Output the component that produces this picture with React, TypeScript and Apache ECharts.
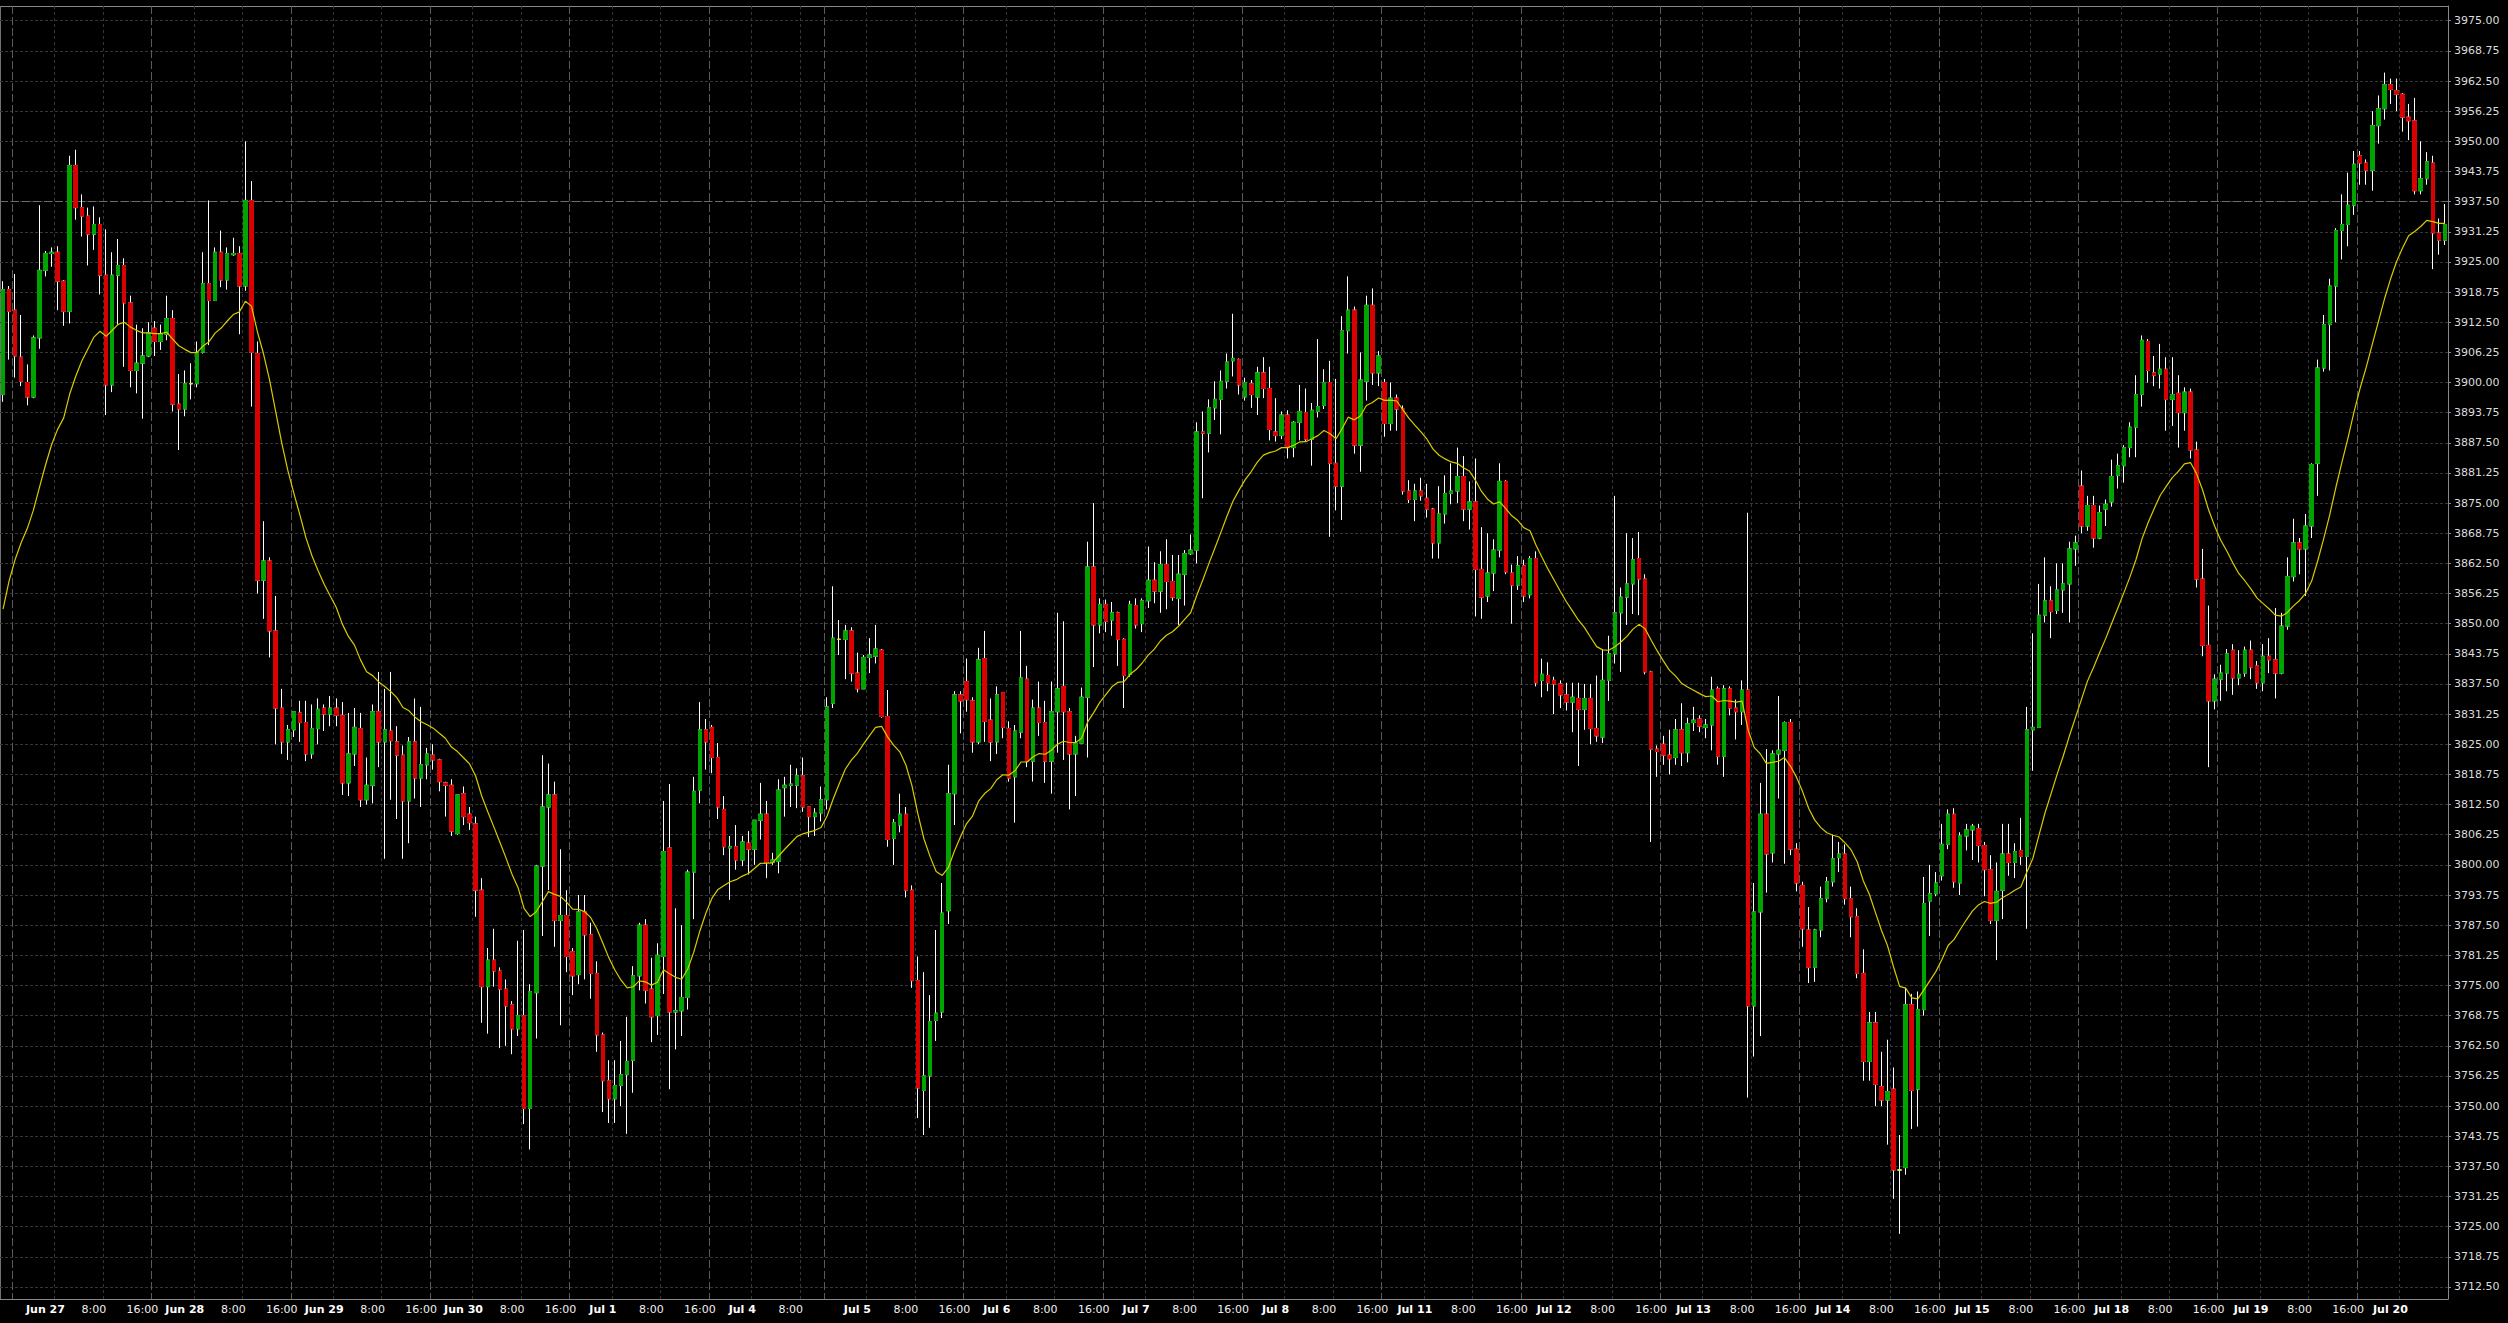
import React, { useEffect, useRef } from 'react';
import * as echarts from 'echarts';

// ---- sessions (hourly bars, broker time) ----
const dayNames = ['Jun 24', 'Jun 27', 'Jun 28', 'Jun 29', 'Jun 30', 'Jul 1', 'Jul 4', 'Jul 5', 'Jul 6', 'Jul 7', 'Jul 8', 'Jul 11', 'Jul 12', 'Jul 13', 'Jul 14', 'Jul 15', 'Jul 18', 'Jul 19', 'Jul 20'];
const dayBarCounts = [2, 23, 23, 23, 23, 23, 19, 23, 23, 23, 23, 23, 23, 23, 23, 23, 23, 23, 15];
const dayFirstHours = [22, 1, 1, 1, 1, 1, 1, 1, 1, 1, 1, 1, 1, 1, 1, 1, 1, 1, 1];
const timeMarks = [{ offset: 7, text: '8:00' }, { offset: 15, text: '16:00' }];

// ---- price axis tick labels ----
const priceTicks = [3712.5, 3718.75, 3725, 3731.25, 3737.5, 3743.75, 3750, 3756.25, 3762.5, 3768.75, 3775, 3781.25, 3787.5, 3793.75, 3800, 3806.25, 3812.5, 3818.75, 3825, 3831.25, 3837.5, 3843.75, 3850, 3856.25, 3862.5, 3868.75, 3875, 3881.25, 3887.5, 3893.75, 3900, 3906.25, 3912.5, 3918.75, 3925, 3931.25, 3937.5, 3943.75, 3950, 3956.25, 3962.5, 3968.75, 3975];
const markedLevel = 3937.5;

// ---- OHLC values ----
const openPrices = [
  3897.5, 3919.25, 3915.0, 3905.25, 3900.0, 3897.0, 3909.25, 3923.25, 3926.75, 3927.0,
  3921.0, 3914.75, 3945.0, 3936.25, 3934.5, 3930.75, 3932.75, 3922.25, 3899.5, 3922.25,
  3924.25, 3916.5, 3902.5, 3904.0, 3905.5, 3911.25, 3908.5, 3910.0, 3913.25, 3895.5,
  3894.5, 3899.75, 3899.75, 3906.25, 3920.5, 3917.0, 3927.0, 3921.25, 3926.5, 3926.75,
  3920.0, 3937.75, 3906.0, 3859.0, 3863.0, 3848.5, 3832.5, 3825.5, 3828.0, 3831.5,
  3829.5, 3823.0, 3828.25, 3832.5, 3831.25, 3832.5, 3831.0, 3817.0, 3823.0, 3828.25,
  3813.5, 3816.5, 3831.75, 3825.5, 3827.75, 3825.5, 3822.75, 3813.25, 3825.5, 3818.0,
  3820.75, 3822.75, 3821.75, 3817.0, 3816.5, 3806.5, 3814.75, 3810.5, 3808.5, 3794.75,
  3774.75, 3780.25, 3778.0, 3774.25, 3771.0, 3766.0, 3768.75, 3749.5, 3773.5, 3799.75,
  3812.0, 3814.5, 3788.5, 3789.5, 3782.0, 3777.25, 3790.25, 3785.5, 3777.5, 3764.75,
  3755.25, 3751.5, 3754.25, 3756.5, 3759.5, 3777.0, 3787.5, 3774.25, 3768.75, 3781.0,
  3803.5, 3769.5, 3769.75, 3772.5, 3798.5, 3815.5, 3828.0, 3828.5, 3822.25, 3811.5,
  3803.5, 3803.75, 3801.0, 3804.5, 3803.25, 3809.25, 3810.5, 3800.5, 3800.75, 3816.0,
  3816.5, 3816.5, 3818.5, 3812.0, 3810.0, 3810.75, 3813.5, 3833.5, 3846.75, 3846.75,
  3848.5, 3839.75, 3836.5, 3843.0, 3843.25, 3844.5, 3830.75, 3805.5, 3808.25, 3810.5,
  3794.75, 3776.0, 3753.25, 3756.25, 3767.75, 3769.5, 3790.5, 3814.75, 3835.25, 3838.0,
  3834.0, 3825.5, 3842.75, 3830.0, 3825.5, 3835.75, 3828.25, 3818.25, 3827.5, 3838.5,
  3821.5, 3832.5, 3829.5, 3821.5, 3831.75, 3837.0, 3831.75, 3823.0, 3825.25, 3834.75,
  3861.75, 3849.75, 3854.0, 3850.75, 3852.25, 3846.75, 3839.5, 3853.75, 3850.0, 3854.75,
  3859.0, 3856.75, 3862.25, 3858.75, 3855.25, 3860.25, 3864.5, 3865.25, 3889.75, 3889.5,
  3894.75, 3896.5, 3900.25, 3904.5, 3904.75, 3897.0, 3899.75, 3897.0, 3902.0, 3898.75,
  3889.75, 3889.0, 3893.25, 3886.5, 3891.75, 3893.75, 3888.25, 3894.0, 3895.25, 3900.0,
  3883.25, 3878.5, 3910.75, 3915.0, 3887.0, 3900.25, 3916.0, 3902.0, 3900.0, 3891.5,
  3896.75, 3894.5, 3877.5, 3875.75, 3877.5, 3876.0, 3873.75, 3866.75, 3872.75, 3877.0,
  3877.5, 3880.5, 3873.75, 3875.25, 3861.25, 3855.75, 3860.5, 3865.25, 3879.5, 3860.5,
  3858.0, 3862.0, 3856.0, 3863.5, 3838.25, 3839.25, 3838.25, 3837.5, 3835.25, 3833.75,
  3834.5, 3832.25, 3834.5, 3828.25, 3826.5, 3838.25, 3843.75, 3852.25, 3855.5, 3858.25,
  3863.5, 3859.25, 3840.0, 3824.0, 3825.0, 3822.75, 3822.25, 3828.0, 3823.25, 3829.5,
  3830.25, 3828.5, 3829.0, 3836.5, 3822.5, 3836.5, 3832.5, 3831.75, 3836.25, 3770.75,
  3790.25, 3810.5, 3802.5, 3823.0, 3823.75, 3829.5, 3803.25, 3795.75, 3786.5, 3778.75,
  3786.5, 3793.0, 3796.5, 3801.5, 3802.25, 3793.0, 3789.25, 3777.5, 3759.25, 3767.25,
  3754.0, 3751.25, 3753.5, 3736.75, 3737.25, 3771.0, 3753.5, 3770.0, 3792.5, 3794.0,
  3797.75, 3804.25, 3810.5, 3796.25, 3806.0, 3807.25, 3807.5, 3804.0, 3799.0, 3788.5,
  3794.75, 3802.25, 3800.5, 3803.0, 3801.75, 3828.0, 3828.5, 3851.75, 3854.75, 3852.75,
  3857.0, 3858.25, 3865.5, 3878.5, 3870.25, 3874.5, 3867.75, 3873.75, 3875.25, 3880.75,
  3882.75, 3886.5, 3890.75, 3897.5, 3908.5, 3902.0, 3901.75, 3902.75, 3896.5, 3897.75,
  3893.75, 3898.0, 3886.0, 3859.25, 3845.5, 3834.0, 3838.5, 3839.75, 3844.5, 3838.75,
  3839.75, 3844.5, 3841.25, 3837.75, 3843.25, 3842.5, 3839.75, 3849.5, 3859.75, 3866.75,
  3865.5, 3870.25, 3883.25, 3903.0, 3912.0, 3920.0, 3931.5, 3932.75, 3936.75, 3947.0,
  3945.5, 3944.0, 3953.25, 3956.75, 3961.75, 3960.5, 3959.75, 3955.0, 3954.25, 3939.75,
  3942.25, 3945.5, 3931.0, 3929.5
];
const highPrices = [
  3921.0, 3920.0, 3922.5, 3914.0, 3903.75, 3909.75, 3936.75, 3927.25, 3928.0, 3928.25,
  3921.25, 3947.0, 3948.25, 3939.0, 3936.25, 3936.5, 3934.25, 3931.75, 3927.0, 3929.75,
  3925.75, 3918.0, 3912.0, 3911.25, 3912.5, 3912.75, 3912.0, 3918.0, 3915.0, 3901.75,
  3902.5, 3904.0, 3908.5, 3927.0, 3937.75, 3928.0, 3931.5, 3928.0, 3930.0, 3928.25,
  3950.0, 3941.75, 3908.5, 3871.25, 3863.75, 3855.75, 3836.5, 3829.0, 3831.75, 3834.0,
  3834.0, 3833.25, 3834.5, 3833.25, 3835.0, 3834.5, 3833.75, 3831.5, 3832.5, 3831.5,
  3822.25, 3833.25, 3840.0, 3836.5, 3840.0, 3828.75, 3824.75, 3826.5, 3834.5, 3832.75,
  3824.25, 3825.0, 3822.0, 3817.25, 3817.75, 3814.5, 3816.25, 3812.0, 3810.0, 3797.25,
  3782.75, 3786.75, 3778.75, 3776.25, 3771.75, 3784.25, 3786.5, 3775.25, 3800.0, 3822.75,
  3821.0, 3817.25, 3803.25, 3794.75, 3782.75, 3793.75, 3793.75, 3788.0, 3780.0, 3765.25,
  3759.5, 3759.5, 3763.5, 3768.5, 3779.0, 3788.0, 3788.75, 3780.75, 3783.75, 3813.25,
  3816.75, 3791.0, 3787.5, 3799.0, 3818.25, 3833.75, 3830.25, 3829.0, 3825.25, 3814.25,
  3806.0, 3808.25, 3806.0, 3807.0, 3809.25, 3817.0, 3813.25, 3802.5, 3817.75, 3818.25,
  3820.75, 3820.0, 3822.25, 3812.0, 3811.75, 3816.25, 3834.75, 3857.75, 3850.75, 3849.75,
  3849.25, 3844.0, 3843.5, 3847.0, 3849.75, 3844.75, 3836.25, 3809.5, 3814.75, 3812.0,
  3795.75, 3781.0, 3777.75, 3773.0, 3786.5, 3796.25, 3820.75, 3836.0, 3836.0, 3842.75,
  3834.75, 3845.0, 3848.5, 3834.5, 3837.0, 3835.75, 3829.75, 3829.0, 3848.5, 3841.25,
  3834.25, 3838.0, 3834.0, 3838.0, 3852.25, 3850.5, 3832.5, 3826.75, 3836.75, 3867.0,
  3875.0, 3855.25, 3855.0, 3854.5, 3852.5, 3847.0, 3854.75, 3855.25, 3855.25, 3866.0,
  3862.75, 3865.0, 3867.5, 3864.25, 3864.25, 3865.25, 3868.5, 3891.75, 3894.0, 3896.5,
  3900.25, 3902.5, 3906.0, 3914.25, 3905.0, 3901.0, 3900.5, 3903.25, 3905.25, 3903.25,
  3896.75, 3894.0, 3894.25, 3892.0, 3899.5, 3898.75, 3895.75, 3909.0, 3902.75, 3904.5,
  3900.75, 3913.75, 3922.0, 3915.75, 3906.25, 3918.0, 3919.5, 3906.5, 3900.75, 3900.0,
  3897.5, 3895.25, 3879.75, 3879.0, 3880.25, 3879.0, 3874.0, 3878.5, 3880.75, 3883.25,
  3886.5, 3884.75, 3879.5, 3884.25, 3870.0, 3868.75, 3867.5, 3883.25, 3879.75, 3862.25,
  3864.0, 3863.25, 3864.0, 3865.0, 3842.75, 3842.0, 3839.0, 3838.25, 3837.75, 3837.75,
  3837.75, 3837.5, 3837.5, 3839.25, 3844.75, 3847.5, 3876.5, 3857.5, 3868.75, 3867.75,
  3869.0, 3860.25, 3840.25, 3824.75, 3826.75, 3828.0, 3830.25, 3833.5, 3830.5, 3832.75,
  3831.0, 3830.25, 3839.0, 3837.0, 3837.25, 3837.0, 3834.25, 3838.25, 3873.0, 3796.25,
  3817.0, 3824.0, 3823.75, 3835.0, 3829.75, 3830.25, 3804.5, 3796.5, 3791.25, 3786.75,
  3795.5, 3797.5, 3806.25, 3804.75, 3804.25, 3795.5, 3791.0, 3782.5, 3769.5, 3769.5,
  3761.25, 3763.75, 3758.0, 3744.0, 3774.5, 3773.25, 3773.75, 3797.5, 3800.0, 3798.5,
  3808.5, 3811.5, 3811.75, 3806.75, 3808.5, 3808.5, 3808.5, 3804.75, 3802.0, 3800.5,
  3808.5, 3808.5, 3804.5, 3809.75, 3832.75, 3848.0, 3858.25, 3863.75, 3857.75, 3862.5,
  3862.5, 3867.0, 3868.25, 3881.75, 3876.5, 3876.5, 3874.5, 3875.75, 3884.0, 3885.25,
  3887.0, 3891.75, 3901.5, 3909.75, 3909.0, 3905.5, 3908.0, 3905.25, 3905.25, 3901.5,
  3899.0, 3898.75, 3887.75, 3865.5, 3853.75, 3839.5, 3841.5, 3844.75, 3845.75, 3844.5,
  3845.25, 3846.5, 3842.25, 3845.75, 3847.0, 3853.25, 3852.25, 3863.75, 3871.75, 3867.75,
  3872.75, 3883.25, 3904.75, 3914.0, 3921.5, 3932.0, 3939.0, 3943.5, 3948.0, 3948.0,
  3946.25, 3956.25, 3959.5, 3964.25, 3963.0, 3963.0, 3960.0, 3957.75, 3959.0, 3950.0,
  3947.75, 3947.0, 3934.0, 3937.0
];
const lowPrices = [
  3896.0, 3904.75, 3901.0, 3899.25, 3895.25, 3896.75, 3907.0, 3922.0, 3924.0, 3915.0,
  3911.75, 3912.25, 3933.75, 3930.25, 3924.25, 3927.5, 3918.25, 3893.25, 3898.0, 3912.0,
  3903.25, 3899.0, 3897.75, 3892.5, 3905.25, 3905.5, 3906.75, 3908.75, 3894.0, 3886.0,
  3893.0, 3896.5, 3899.0, 3906.0, 3907.75, 3917.0, 3919.75, 3919.25, 3926.25, 3910.0,
  3919.0, 3895.0, 3856.25, 3851.0, 3843.0, 3825.0, 3823.0, 3821.75, 3826.5, 3825.5,
  3821.5, 3822.0, 3825.0, 3827.75, 3828.75, 3828.75, 3814.5, 3814.25, 3820.5, 3812.0,
  3812.5, 3812.75, 3820.25, 3801.25, 3813.5, 3809.5, 3801.25, 3804.5, 3813.75, 3812.0,
  3817.75, 3819.75, 3815.25, 3810.0, 3806.0, 3806.25, 3808.25, 3807.25, 3789.25, 3767.25,
  3765.0, 3774.75, 3762.0, 3762.5, 3760.75, 3764.5, 3746.25, 3741.0, 3764.0, 3785.25,
  3794.75, 3783.0, 3766.75, 3777.75, 3773.0, 3775.25, 3776.25, 3772.25, 3761.25, 3748.75,
  3746.5, 3746.5, 3750.0, 3744.25, 3752.75, 3774.0, 3771.25, 3763.25, 3764.75, 3773.25,
  3753.5, 3761.75, 3764.5, 3770.0, 3788.75, 3812.75, 3819.75, 3819.0, 3809.5, 3802.0,
  3792.75, 3799.0, 3799.75, 3798.0, 3800.0, 3805.25, 3797.25, 3800.0, 3798.25, 3810.0,
  3812.0, 3811.75, 3811.0, 3805.75, 3806.0, 3809.0, 3811.5, 3832.5, 3843.5, 3838.5,
  3838.0, 3835.75, 3836.5, 3839.75, 3841.75, 3830.5, 3803.75, 3800.0, 3806.75, 3793.25,
  3774.5, 3747.5, 3744.0, 3745.5, 3763.5, 3768.25, 3787.75, 3808.25, 3827.25, 3831.75,
  3823.25, 3825.0, 3825.5, 3821.5, 3823.0, 3826.25, 3817.25, 3808.75, 3826.25, 3820.25,
  3817.25, 3826.75, 3817.0, 3814.75, 3823.25, 3821.75, 3811.5, 3814.25, 3825.25, 3822.25,
  3841.0, 3848.0, 3848.25, 3847.5, 3841.25, 3832.5, 3839.0, 3849.0, 3848.25, 3853.25,
  3854.25, 3852.25, 3853.0, 3854.75, 3849.75, 3853.75, 3864.25, 3862.5, 3876.0, 3885.5,
  3892.25, 3889.25, 3898.75, 3901.25, 3897.5, 3896.25, 3894.75, 3893.25, 3896.75, 3888.0,
  3887.75, 3888.25, 3884.25, 3884.5, 3888.0, 3887.75, 3882.75, 3892.75, 3894.5, 3868.0,
  3873.5, 3871.5, 3906.0, 3885.25, 3881.5, 3896.25, 3899.5, 3899.25, 3888.75, 3890.0,
  3890.0, 3876.75, 3875.0, 3871.25, 3875.5, 3872.0, 3863.5, 3863.5, 3870.75, 3874.75,
  3875.0, 3871.25, 3869.5, 3851.5, 3851.0, 3854.5, 3856.75, 3863.75, 3860.25, 3850.0,
  3857.0, 3854.5, 3855.25, 3837.0, 3834.75, 3836.0, 3831.25, 3832.5, 3832.0, 3827.5,
  3820.5, 3828.0, 3825.0, 3825.5, 3825.25, 3834.0, 3841.75, 3840.0, 3849.75, 3852.0,
  3851.75, 3839.5, 3804.75, 3818.25, 3820.75, 3818.75, 3820.75, 3820.5, 3821.25, 3827.75,
  3827.5, 3826.25, 3823.75, 3820.75, 3818.25, 3831.0, 3826.0, 3829.0, 3751.75, 3760.25,
  3764.5, 3794.25, 3800.5, 3813.75, 3800.25, 3802.0, 3794.5, 3783.0, 3775.5, 3775.75,
  3785.0, 3792.25, 3795.5, 3798.5, 3791.75, 3785.0, 3776.5, 3755.25, 3755.25, 3750.0,
  3750.0, 3742.0, 3730.75, 3723.5, 3735.75, 3745.25, 3745.75, 3768.75, 3785.25, 3793.5,
  3796.75, 3803.25, 3795.25, 3793.75, 3803.0, 3801.0, 3800.5, 3793.5, 3787.75, 3780.25,
  3788.75, 3797.75, 3797.25, 3800.0, 3786.75, 3819.5, 3828.5, 3850.25, 3847.0, 3852.0,
  3852.25, 3850.25, 3862.0, 3868.75, 3869.25, 3865.75, 3867.5, 3870.25, 3874.25, 3878.0,
  3879.25, 3884.5, 3884.5, 3895.0, 3900.0, 3899.25, 3898.75, 3890.0, 3891.0, 3886.5,
  3890.0, 3884.25, 3857.5, 3843.25, 3820.25, 3832.25, 3834.0, 3836.0, 3835.25, 3837.25,
  3839.0, 3838.5, 3836.5, 3836.0, 3839.75, 3834.5, 3839.5, 3848.75, 3858.75, 3860.25,
  3855.75, 3867.75, 3876.5, 3902.25, 3902.5, 3912.5, 3925.5, 3928.25, 3934.75, 3941.0,
  3941.0, 3939.75, 3949.5, 3954.5, 3957.75, 3956.25, 3952.0, 3950.25, 3939.0, 3939.0,
  3941.0, 3923.5, 3926.5, 3928.5
];
const closePrices = [
  3919.25, 3914.75, 3905.5, 3900.25, 3897.0, 3909.25, 3923.25, 3926.75, 3927.0, 3921.0,
  3914.75, 3945.0, 3936.25, 3934.5, 3930.75, 3932.75, 3922.25, 3899.5, 3922.25, 3924.25,
  3916.5, 3902.5, 3904.0, 3905.5, 3910.25, 3908.5, 3910.0, 3913.25, 3895.5, 3894.5,
  3899.75, 3899.75, 3906.25, 3920.5, 3917.0, 3927.0, 3921.25, 3926.75, 3926.75, 3920.0,
  3937.75, 3906.25, 3859.0, 3863.0, 3848.5, 3832.5, 3825.5, 3828.0, 3831.75, 3829.5,
  3823.0, 3828.25, 3832.25, 3831.25, 3832.5, 3831.0, 3817.0, 3823.0, 3828.5, 3813.5,
  3816.5, 3831.75, 3825.5, 3828.0, 3825.75, 3822.75, 3813.25, 3825.5, 3818.0, 3820.75,
  3823.0, 3821.75, 3817.25, 3816.5, 3807.0, 3814.5, 3810.0, 3808.75, 3794.75, 3774.75,
  3780.25, 3778.0, 3774.25, 3770.75, 3766.0, 3768.75, 3749.5, 3773.75, 3799.75, 3812.0,
  3814.5, 3788.5, 3789.5, 3781.0, 3777.0, 3790.25, 3785.5, 3777.5, 3764.75, 3755.25,
  3751.5, 3754.25, 3756.5, 3759.25, 3777.0, 3787.5, 3774.0, 3768.5, 3781.25, 3802.75,
  3769.5, 3769.75, 3772.5, 3798.5, 3815.25, 3828.0, 3825.5, 3822.25, 3812.0, 3803.75,
  3803.75, 3801.0, 3804.75, 3803.25, 3809.25, 3810.5, 3800.5, 3801.0, 3815.5, 3816.5,
  3816.75, 3818.5, 3812.0, 3810.0, 3810.75, 3813.5, 3832.75, 3847.0, 3846.75, 3848.5,
  3839.75, 3836.5, 3843.0, 3843.5, 3844.75, 3830.75, 3805.25, 3808.75, 3810.5, 3794.75,
  3776.0, 3753.75, 3756.25, 3767.5, 3769.25, 3790.0, 3814.75, 3835.25, 3834.0, 3834.25,
  3825.5, 3842.5, 3829.75, 3825.5, 3835.25, 3828.5, 3818.0, 3827.75, 3838.75, 3821.5,
  3832.5, 3829.5, 3821.5, 3831.75, 3836.5, 3831.75, 3823.0, 3825.25, 3834.75, 3861.75,
  3849.75, 3854.0, 3850.5, 3852.25, 3846.75, 3839.25, 3854.0, 3849.75, 3854.75, 3859.0,
  3856.75, 3862.25, 3858.75, 3855.5, 3860.25, 3864.5, 3865.25, 3889.75, 3889.5, 3894.75,
  3896.5, 3900.25, 3904.25, 3905.0, 3899.5, 3900.0, 3897.5, 3902.0, 3898.75, 3890.25,
  3889.0, 3893.25, 3886.5, 3891.75, 3894.0, 3888.25, 3894.25, 3895.0, 3900.0, 3883.25,
  3878.5, 3910.75, 3915.0, 3887.0, 3900.5, 3916.0, 3902.0, 3905.5, 3891.5, 3896.75,
  3894.5, 3877.5, 3875.75, 3877.5, 3876.5, 3873.75, 3866.75, 3872.75, 3877.0, 3877.5,
  3880.5, 3873.75, 3875.25, 3861.25, 3855.5, 3860.5, 3865.25, 3879.5, 3860.75, 3858.0,
  3862.0, 3855.75, 3863.5, 3837.75, 3839.5, 3837.75, 3837.5, 3835.25, 3833.75, 3834.75,
  3832.25, 3834.5, 3828.25, 3826.75, 3838.25, 3843.75, 3852.25, 3855.5, 3858.25, 3863.25,
  3859.25, 3840.0, 3824.0, 3823.5, 3822.75, 3822.0, 3828.0, 3823.25, 3829.25, 3830.0,
  3828.75, 3829.0, 3836.25, 3822.5, 3836.5, 3832.5, 3831.75, 3836.25, 3770.75, 3790.25,
  3810.5, 3802.25, 3823.0, 3823.75, 3829.5, 3803.25, 3796.25, 3786.75, 3778.75, 3786.5,
  3793.0, 3796.5, 3801.25, 3802.25, 3793.0, 3789.25, 3777.5, 3759.25, 3767.25, 3754.5,
  3751.25, 3753.0, 3736.75, 3736.75, 3771.0, 3753.25, 3770.0, 3792.0, 3794.0, 3796.25,
  3804.25, 3810.5, 3796.5, 3806.0, 3807.25, 3808.0, 3804.0, 3799.0, 3788.5, 3794.5,
  3802.25, 3800.5, 3802.75, 3801.75, 3828.0, 3828.5, 3851.75, 3854.75, 3852.5, 3857.0,
  3858.25, 3865.5, 3866.75, 3870.25, 3874.5, 3867.75, 3873.0, 3874.75, 3880.5, 3882.75,
  3886.5, 3890.75, 3897.5, 3908.75, 3902.5, 3901.5, 3902.75, 3896.5, 3897.5, 3893.75,
  3898.0, 3886.0, 3859.25, 3845.5, 3834.0, 3838.5, 3839.75, 3843.75, 3838.75, 3839.5,
  3844.5, 3841.0, 3837.75, 3843.25, 3842.5, 3839.75, 3849.5, 3859.75, 3866.75, 3865.5,
  3870.25, 3883.0, 3903.0, 3912.0, 3920.0, 3931.5, 3932.75, 3936.75, 3945.25, 3945.5,
  3944.0, 3953.25, 3956.75, 3961.75, 3960.75, 3959.75, 3955.0, 3954.25, 3939.75, 3942.25,
  3945.75, 3931.0, 3929.5, 3932.75
];

// moving average shown on the chart: 20-period EMA of the closes (value at the first bar)
const maPeriod = 20;
const maSeed = 3853;

// ---- colours ----
const BG = '#000000';
const BULL = '#00a400';
const BEAR = '#d80000';
const DOJI = '#e8e000';
const WICK = '#ffffff';
const MA_COLOR = '#d8cc00';
const FRAME = '#888888';

// ---- derived tables ----
const categories: string[] = [];
const dayStarts: number[] = [];
dayNames.forEach((d, di) => {
  dayStarts.push(categories.length);
  for (let j = 0; j < dayBarCounts[di]; j++) categories.push(`${d} ${dayFirstHours[di] + j}:00`);
});
const lastIndex = categories.length - 1;

const daySeparators = new Set<number>();
const hourSeparators = new Set<number>();
type Cand = { idx: number; text: string; bold: boolean };
const candidates: Cand[] = [];
dayNames.forEach((d, di) => {
  if (di === 0) return; // partial session at the left edge
  const s = dayStarts[di];
  daySeparators.add(s);
  candidates.push({ idx: s + 5, text: d, bold: true });
  timeMarks.forEach((m) => {
    if (m.offset < dayBarCounts[di]) {
      hourSeparators.add(s + m.offset);
      candidates.push({ idx: s + m.offset + 6, text: m.text, bold: false });
    }
  });
});
candidates.sort((a, b) => a.idx - b.idx);
const labelByCategory = new Map<string, { text: string; bold: boolean }>();
candidates.forEach((c, k) => {
  const next = candidates[k + 1];
  if (c.idx > lastIndex - 5) return; // too close to the right edge
  if (!c.bold && next && next.idx - c.idx < 6) return; // would collide with the next label
  labelByCategory.set(categories[c.idx], { text: c.text, bold: c.bold });
});

const maValues: number[] = [];
const maK = 2 / (maPeriod + 1);
closePrices.forEach((c, i) => {
  if (i === 0) maValues.push(maSeed);
  else {
    const prev = maValues[i - 1];
    maValues.push(+(prev + maK * (c - prev)).toFixed(2));
  }
});

const fullCandles = openPrices.map((o, i) => [o, closePrices[i], lowPrices[i], highPrices[i]]);
const bodyCandles = openPrices.map((o, i) => {
  const c = closePrices[i];
  const v = [o, c, Math.min(o, c), Math.max(o, c)];
  if (o === c) {
    return { value: v, itemStyle: { color: DOJI, color0: DOJI, borderColor: DOJI, borderColor0: DOJI, borderColorDoji: DOJI } };
  }
  return v;
});

const LABEL_FONT = 'DejaVu Sans, Verdana, sans-serif';

const option: any = {
  animation: false,
  backgroundColor: BG,
  grid: { left: -3.34, right: 60, top: 6, bottom: 24, containLabel: false },
  xAxis: [
    {
      type: 'category',
      data: categories,
      boundaryGap: true,
      position: 'bottom',
      axisLine: { show: true, onZero: false, lineStyle: { color: FRAME, width: 1 } },
      axisTick: { show: false },
      axisLabel: {
        interval: (i: number, v: string) => labelByCategory.has(v),
        margin: 5,
        formatter: (v: string) => {
          const l = labelByCategory.get(v);
          if (!l) return '';
          return l.bold ? `{d|${l.text}}` : `{t|${l.text}}`;
        },
        rich: {
          d: { fontFamily: LABEL_FONT, fontSize: 11, fontWeight: 'bold', color: '#ffffff' },
          t: { fontFamily: LABEL_FONT, fontSize: 11, color: '#f0f0f0' },
        },
      },
      splitLine: {
        show: true,
        interval: (i: number) => hourSeparators.has(i),
        lineStyle: { color: '#363636', width: 1, type: [3, 3] },
      },
    },
    {
      type: 'category',
      data: categories,
      boundaryGap: true,
      position: 'top',
      axisLine: { show: false },
      axisTick: { show: false },
      axisLabel: { show: false },
      splitLine: {
        show: true,
        interval: (i: number) => daySeparators.has(i),
        lineStyle: { color: '#5a5a5a', width: 1, type: [8, 3] },
      },
    },
  ],
  yAxis: {
    type: 'value',
    position: 'right',
    min: 3710,
    max: 3978.05,
    scale: true,
    axisLine: { show: true, lineStyle: { color: FRAME, width: 1 } },
    axisTick: { show: true, length: 3, customValues: priceTicks, lineStyle: { color: FRAME } },
    axisLabel: {
      customValues: priceTicks,
      formatter: (v: number) => v.toFixed(2),
      color: '#dcdcdc',
      fontSize: 11,
      fontFamily: LABEL_FONT,
      margin: 6,
    },
    splitLine: { show: true, lineStyle: { color: '#363636', width: 1, type: [3, 2] } },
  },
  graphic: [
    { type: 'line', silent: true, shape: { x1: 0, y1: 6.5, x2: 2448.5, y2: 6.5 }, style: { stroke: FRAME, lineWidth: 1 } },
    { type: 'line', silent: true, shape: { x1: 0.5, y1: 6, x2: 0.5, y2: 1299 }, style: { stroke: '#707070', lineWidth: 1 } },
  ],
  series: [
    {
      name: 'range',
      type: 'candlestick',
      data: fullCandles,
      barWidth: 4,
      silent: true,
      z: 2,
      itemStyle: { color: WICK, color0: WICK, borderColor: WICK, borderColor0: WICK, borderColorDoji: WICK, borderWidth: 1 },
    },
    {
      name: 'US500 H1',
      type: 'candlestick',
      data: bodyCandles,
      barWidth: 4,
      silent: true,
      z: 3,
      itemStyle: { color: BULL, color0: BEAR, borderColor: BULL, borderColor0: BEAR, borderColorDoji: DOJI, borderWidth: 1 },
      markLine: {
        silent: true,
        z: 1,
        symbol: ['none', 'none'],
        label: { show: false },
        lineStyle: { color: '#6c6c6c', width: 1, type: [8, 3] },
        data: [{ yAxis: markedLevel }],
      },
    },
    {
      name: 'EMA 20',
      type: 'line',
      data: maValues,
      showSymbol: false,
      symbol: 'none',
      silent: true,
      z: 4,
      lineStyle: { color: MA_COLOR, width: 1.2 },
    },
  ],
};

export default function App() {
  const ref = useRef<HTMLDivElement>(null);
  useEffect(() => {
    document.body.style.margin = '0';
    document.body.style.background = BG;
    document.documentElement.style.overflow = 'hidden';
    const chart = echarts.init(ref.current as HTMLDivElement, undefined, { renderer: 'svg' });
    chart.setOption(option);
    return () => chart.dispose();
  }, []);
  return (
    <div
      ref={ref}
      style={{ position: 'absolute', left: 0, top: 0, width: 2508, height: 1323, background: BG }}
    />
  );
}
